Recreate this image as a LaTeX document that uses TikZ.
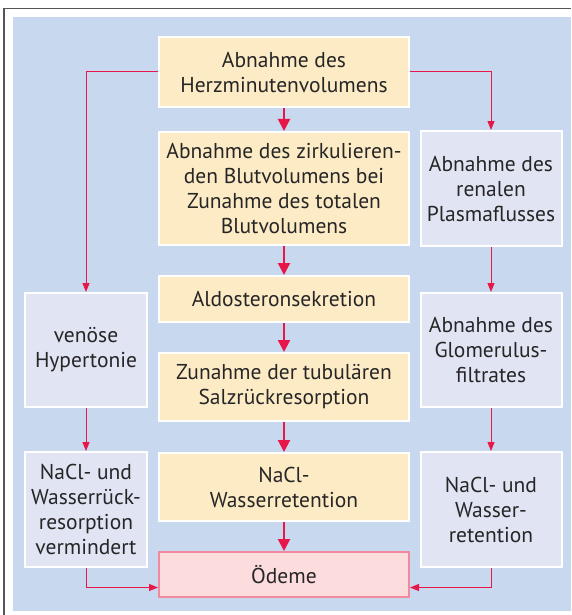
\documentclass[tikz,border=0pt]{standalone}
\usepackage{fontspec}
\setmainfont{PT Sans}
\usetikzlibrary{arrows.meta,positioning}
\definecolor{bgblue}{HTML}{C8D8EE}
\definecolor{boxyellow}{HTML}{FDEBC6}
\definecolor{boxlilac}{HTML}{E1E4F3}
\definecolor{boxpink}{HTML}{FCDCDC}
\definecolor{pinkline}{HTML}{F08A9C}
\definecolor{arrred}{HTML}{E8174A}
\definecolor{framegrey}{HTML}{555555}
\tikzstyle{box} = [draw=white,line width=2pt,align=center,inner sep=0pt,font=\fontsize{21.5}{25}\selectfont,text=black!85]
\tikzstyle{mainbox} = [box,fill=boxyellow,minimum width=250pt]
\tikzstyle{sidebox} = [box,fill=boxlilac]
\tikzstyle{bigarrow} = [arrred,line width=2pt,-{Triangle[length=12pt,width=12pt]}]
\tikzstyle{thinarrow} = [arrred,line width=1pt,-{Triangle[length=9pt,width=7pt]}]

\begin{document}
\begin{tikzpicture}[x=1pt,y=-1pt]
\useasboundingbox (0,0) rectangle (571,615);
\fill[white] (0,0) rectangle (571,615);
\fill[bgblue] (13,17) rectangle (571,611);
\draw[framegrey,line width=1.5pt] (4,615) -- (4,8.5) -- (571,8.5);

% middle column
\node[mainbox,minimum height=70pt] (herz) at (284,72) {Abnahme des\\Herzminutenvolumens};
\node[mainbox,minimum height=113pt] (zirk) at (284,188.5) {Abnahme des zirkulieren-\\den Blutvolumens bei\\Zunahme des totalen\\Blutvolumens};
\node[mainbox,minimum height=46pt] (aldo) at (284,299) {Aldosteronsekretion};
\node[mainbox,minimum height=68pt] (salz) at (284,387) {Zunahme der tubulären\\Salzrückresorption};
\node[mainbox,minimum height=68pt] (retmid) at (284,487) {NaCl-\\Wasserretention};
\node[box,fill=boxpink,draw=pinkline,minimum width=250pt,minimum height=45pt] (oedem) at (284,574.5) {Ödeme};

% left column
\node[sidebox,minimum width=122pt,minimum height=114pt] (venoes) at (86,350) {venöse\\Hypertonie};
\node[sidebox,minimum width=122pt,minimum height=115pt] (rueck) at (86,509.5) {NaCl- und\\Wasserrück-\\resorption\\vermindert};

% right column
\node[sidebox,minimum width=141pt,minimum height=115pt] (plasma) at (491,188.5) {Abnahme des\\renalen\\Plasmaflusses};
\node[sidebox,minimum width=141pt,minimum height=114pt] (glom) at (491,350) {Abnahme des\\Glomerulus-\\filtrates};
\node[sidebox,minimum width=141pt,minimum height=115pt] (retright) at (491,509.5) {NaCl- und\\Wasser-\\retention};

\draw[bigarrow] (herz) -- (zirk);
\draw[bigarrow] (zirk) -- (aldo);
\draw[bigarrow] (aldo) -- (salz);
\draw[bigarrow] (salz) -- (retmid);
\draw[bigarrow] (retmid) -- (oedem);

\draw[thinarrow] (herz.west) -| (venoes.north);
\draw[thinarrow] (herz.east) -| (plasma.north);
\draw[thinarrow] (venoes) -- (rueck);
\draw[thinarrow] (plasma) -- (glom);
\draw[thinarrow] (glom) -- (retright);
\draw[thinarrow] (rueck.south) |- ([yshift=-13pt]oedem.west);
\draw[thinarrow] (retright.south) |- ([yshift=-13pt]oedem.east);
\end{tikzpicture}
\end{document}
